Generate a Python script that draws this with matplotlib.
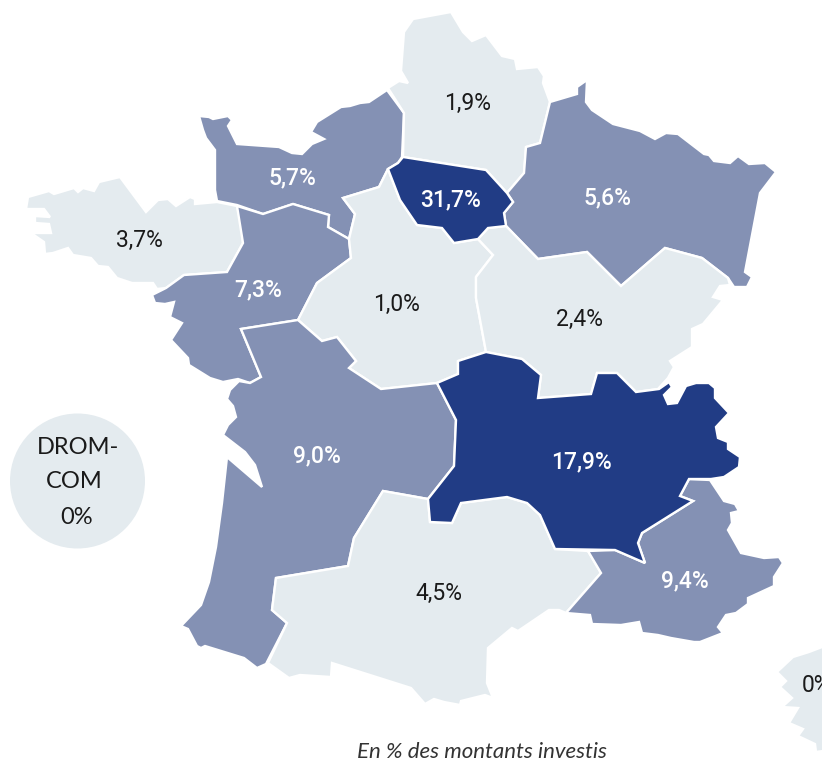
import matplotlib
matplotlib.use("Agg")
import matplotlib.pyplot as plt
from matplotlib.patches import Polygon, Circle

# regions and their share of invested amounts (%)
regions = ["Bretagne", "Normandie", "Hauts-de-France", "Grand Est", "Pays de la Loire", "Centre-Val de Loire",
           "Bourgogne-Franche-Comte", "Nouvelle-Aquitaine", "Occitanie", "PACA", "Auvergne-Rhone-Alpes",
           "Ile-de-France", "Corse"]
shares = [3.7, 5.7, 1.9, 5.6, 7.3, 1.0, 2.4, 9.0, 4.5, 9.4, 17.9, 31.7, 0]
drom_share = 0

# outlines
bretagne = [(26,209),(28,197),(49,191),(54,194),(74,188),(78,192),(83,188),(94,191),(99,182),(120,177),(146,212),
            (158,200),(168,199),(176,206),(190,197),(195,199),(195,204),(217,202),(237,206),(241,223),(243,243),
            (227,272),(184,275),(166,288),(157,289),(153,283),(132,283),(117,278),(108,267),(98,266),(91,258),
            (73,255),(68,248),(53,253),(45,254),(44,242),(31,233),(51,233),(49,224),(35,223),(35,216),(50,217),(44,209)]
normandie = [(199,116),(209,117),(213,119),(228,116),(232,120),(228,126),(237,144),(279,147),(292,153),(302,154),
             (312,144),(324,139),(311,132),(317,122),(341,107),(350,106),(360,103),(369,102),(387,90),(404,113),
             (402,157),(398,163),(388,169),(379,187),(343,198),(355,214),(349,239),(328,227),(329,215),(293,204),
             (263,214),(237,205),(217,201),(215,190),(215,150),(206,138),(203,130)]
hauts_de_france = [(388,88),(399,81),(408,83),(401,71),(404,32),(413,19),(451,12),(463,32),(472,41),(486,35),(502,56),
                   (515,59),(517,69),(538,67),(544,76),(543,83),(550,102),(540,143),(526,147),(524,173),(507,193),
                   (486,170),(403,157),(404,113)]
grand_est = [(550,102),(577,94),(577,87),(587,80),(586,102),(592,110),(613,124),(640,131),(655,139),(666,133),(678,134),
             (704,154),(709,155),(714,161),(730,163),(738,156),(749,164),(765,163),(776,172),(760,193),(745,272),
             (752,277),(747,287),(734,287),(728,278),(702,258),(665,248),(621,286),(587,252),(538,259),(506,226),
             (504,213),(513,202),(507,193),(524,173),(526,147),(540,143)]
pays_de_la_loire = [(152,295),(166,288),(184,275),(227,272),(243,243),(237,206),(263,214),(293,204),(329,215),(328,227),
                    (349,239),(351,258),(317,283),(298,320),(241,329),(261,377),(250,383),(238,379),(223,382),(210,378),
                    (189,365),(188,358),(171,340),(182,323),(170,317),(174,302),(165,304),(155,303)]
centre = [(388,169),(400,200),(417,225),(442,228),(454,243),(478,239),(493,255),(476,277),(476,298),(486,352),(458,361),
          (458,374),(437,383),(381,389),(349,368),(356,361),(337,337),(322,341),(298,320),(317,283),(351,258),(349,239),
          (355,214),(343,198),(379,187)]
bourgogne_fc = [(506,226),(538,259),(587,252),(621,286),(665,248),(702,258),(728,278),(730,285),(720,286),(713,297),
                (723,300),(703,324),(692,329),(692,347),(670,361),(674,367),(668,378),(658,389),(636,392),(617,373),
                (597,373),(591,394),(538,398),(541,375),(522,359),(486,352),(476,298),(476,277),(493,255),(478,239),
                (488,228)]
nouvelle_aquitaine = [(241,329),(298,320),(322,341),(337,337),(356,361),(349,368),(381,389),(437,383),(456,420),(454,466),
                      (428,499),(383,491),(354,538),(348,566),(276,578),(272,610),(287,623),(266,664),(257,668),(244,658),
                      (205,646),(201,648),(197,646),(188,629),(181,626),(201,605),(209,582),(216,547),(222,503),(227,457),
                      (262,487),(255,465),(245,452),(223,435),(228,425),(236,417),(233,406),(227,399),(230,390),(239,381),
                      (250,383),(261,377)]
occitanie = [(383,491),(428,499),(430,522),(452,523),(461,503),(507,497),(527,503),(540,515),(555,549),(588,551),(601,573),
             (566,613),(559,610),(549,610),(518,631),(512,628),(488,648),(487,683),(493,698),(485,695),(461,701),(460,705),
             (444,702),(434,699),(425,704),(411,688),(332,663),(331,677),(300,675),(289,678),(268,663),(287,623),(272,610),
             (276,578),(348,566),(354,538)]
paca = [(689,479),(710,480),(724,501),(735,504),(739,511),(731,513),(732,523),(728,530),(741,553),(764,558),(779,557),
        (783,563),(774,577),(774,586),(748,598),(748,604),(736,613),(726,615),(718,627),(723,633),(700,642),(694,642),
        (671,638),(658,635),(642,633),(639,622),(621,625),(592,624),(590,615),(566,613),(601,573),(588,551),(615,550),
        (645,563),(638,543),(642,533),(693,501),(680,496)]
auvergne_ra = [(437,383),(458,374),(458,361),(486,352),(522,359),(541,375),(538,398),(591,394),(597,373),(617,373),(636,392),
               (659,389),(669,382),(672,387),(664,395),(668,404),(677,403),(686,386),(696,383),(709,383),(715,388),(715,398),
               (729,413),(716,427),(718,438),(728,442),(728,449),(740,457),(739,467),(724,477),(711,479),(689,479),(680,496),
               (693,501),(642,533),(638,543),(645,563),(615,550),(555,549),(540,515),(527,503),(507,497),(461,503),(452,523),
               (430,522),(428,499),(454,466),(456,420)]
ile_de_france = [(388,169),(398,163),(403,157),(486,170),(507,193),(513,202),(504,213),(506,226),(488,228),(478,239),
                 (454,243),(442,228),(417,225),(400,200)]
corse = [(830,644),(809,652),(793,657),(777,672),(786,681),(780,687),(792,698),(782,707),(798,708),(789,723),(803,729),
         (798,736),(815,744),(816,752),(830,750)]
outlines = [bretagne, normandie, hauts_de_france, grand_est, pays_de_la_loire, centre, bourgogne_fc,
            nouvelle_aquitaine, occitanie, paca, auvergne_ra, ile_de_france, corse]

# where the labels sit
label_xy = [(139,240),(292,178),(468,103),(607,198),(258,290),(396,304),(579,319),(317,456),(439,593),(685,581),
            (581,462),(451,200),(816,685)]

LIGHT = "#E4EBEF"
MID = "#8491B4"
DARK = "#213C85"

def tier(v):
    if v >= 15:
        return DARK
    if v >= 5:
        return MID
    return LIGHT

plt.rcParams['font.family'] = ['Roboto', 'DejaVu Sans']

fig = plt.figure(figsize=(8.22, 7.64), dpi=100)
ax = fig.add_axes([0, 0, 1, 1])
ax.set_xlim(0, 822)
ax.set_ylim(764, 0)
ax.axis("off")

for outline, v in zip(outlines, shares):
    ax.add_patch(Polygon(outline, closed=True, facecolor=tier(v), edgecolor="white", linewidth=1.7, joinstyle="miter"))

for (x, y), v, name in zip(label_xy, shares, regions):
    col = "white" if tier(v) != LIGHT else "#1A1A1A"
    txt = f"{v:.1f}%".replace(".", ",") if v else "0%"
    ax.text(x, y, txt, color=col, fontsize=16.5, ha="center", va="center", clip_on=True,
            fontweight="medium" if col == "white" else "normal")

# DROM-COM bubble
ax.add_patch(Circle((77.5, 481), 67.5, facecolor=LIGHT, edgecolor="none"))
ax.text(78, 448, "DROM-", fontsize=17, ha="center", va="center", color="#1A1A1A", family=["Lato", "DejaVu Sans"])
ax.text(74, 482, "COM", fontsize=17, ha="center", va="center", color="#1A1A1A", family=["Lato", "DejaVu Sans"])
ax.text(77, 517, f"{drom_share}%", fontsize=17, ha="center", va="center", color="#1A1A1A", family=["Lato", "DejaVu Sans"])

ax.text(482, 752, "En % des montants investis", fontsize=16, style="italic", ha="center", va="center",
        color="#333333", family=["Lato", "DejaVu Sans"])

fig.savefig("out.png", dpi=100)
